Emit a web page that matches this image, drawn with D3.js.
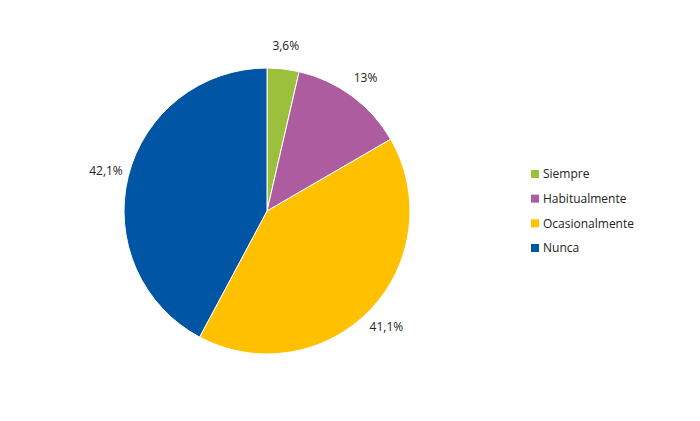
<!DOCTYPE html>
<html><head><meta charset="utf-8">
<script src="https://cdn.jsdelivr.net/npm/d3@7"></script>
<style>body{margin:0;background:#fff}text{font-family:"Open Sans",Calibri,sans-serif;font-size:12px;fill:#222}</style>
</head><body><svg id="c" width="700" height="421"></svg>
<script>
const categories=["Siempre","Habitualmente","Ocasionalmente","Nunca"];
const values=[3.6,13,41.1,42.1];
const labels=["3,6%","13%","41,1%","42,1%"];
const colors=["#9bc13c","#ac5c9f","#ffc000","#0055a4"];
const svg=d3.select("#c");
const cx=267,cy=211,r=143;
const pie=d3.pie().sort(null)(values);
const arc=d3.arc().innerRadius(0).outerRadius(r);
const lab=d3.arc().innerRadius(166).outerRadius(166);
const g=svg.append("g").attr("transform",`translate(${cx},${cy})`);
g.selectAll("path").data(pie).join("path").attr("d",arc).attr("fill",(d,i)=>colors[i]).attr("stroke","#fff").attr("stroke-width",1);
g.selectAll("text").data(pie).join("text").attr("transform",d=>`translate(${lab.centroid(d)})`)
 .attr("text-anchor","middle").attr("dy","0.35em").text((d,i)=>labels[i]);
const y=d3.scalePoint().domain(categories).range([174,248]);
const lg=svg.append("g");
lg.selectAll("rect").data(categories).join("rect").attr("x",531).attr("y",d=>y(d)-4).attr("width",8).attr("height",8).attr("fill",(d,i)=>colors[i]);
lg.selectAll("text").data(categories).join("text").attr("x",543).attr("y",d=>y(d)).attr("dy","0.35em").text(d=>d);
</script></body></html>
